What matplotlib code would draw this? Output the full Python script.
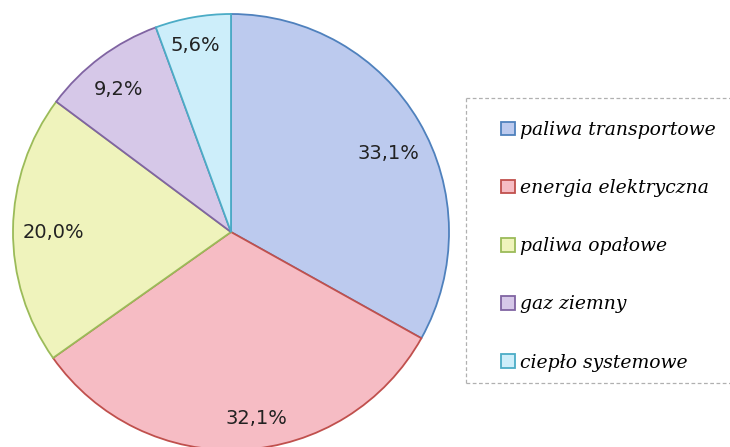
import matplotlib.pyplot as plt
from matplotlib.patches import Patch
from matplotlib.lines import Line2D

labels = ['paliwa transportowe', 'energia elektryczna', 'paliwa opałowe',
          'gaz ziemny', 'ciepło systemowe']
values = [33.1, 32.1, 20.0, 9.2, 5.6]
fills = ['#bccaee', '#f6bcc4', '#eff3bc', '#d6c8e8', '#cdeefa']
edges = ['#4f81bd', '#c0504d', '#9bbb59', '#8064a2', '#4bacc6']
# small nudges of the percent labels (px, right / down) to mimic Excel's "best fit"
nudges = [(0, 14), (16, 4), (6, 3), (-3, 4), (-4, -6)]

W, H = 730, 447
fig = plt.figure(figsize=(W / 100, H / 100), dpi=100)
ax = fig.add_axes([0, 0, 1, 1])

# pie centre at (231, 232) px, radius 218 px
cx, cy, r = 231, 232, 218


def fmt(p):
    return f'{p:.1f}%'.replace('.', ',')


wedges, texts, autotexts = ax.pie(
    values, colors=fills, startangle=90, counterclock=False,
    autopct=fmt, pctdistance=0.84, radius=1.0,
    wedgeprops=dict(linewidth=1.3),
    textprops=dict(fontsize=14, family='DejaVu Sans', color='#222222'))
for w, e in zip(wedges, edges):
    w.set_edgecolor(e)
for t, (dx, dy) in zip(autotexts, nudges):
    x, y = t.get_position()
    t.set_position((x + dx / r, y - dy / r))

ax.set_aspect('auto')
ax.set_xlim(-cx / r, (W - cx) / r)
ax.set_ylim((cy - H) / r, cy / r)
ax.axis('off')

# legend frame: dashed grey, running off the right edge
x0, x1, y0, y1 = 466 / W, 1.0, 1 - 383 / H, 1 - 98 / H
for xs, ys in [([x0, x1], [y1, y1]), ([x0, x0], [y0, y1]), ([x0, x1], [y0, y0])]:
    fig.add_artist(Line2D(xs, ys, color='#b0b0b0', lw=0.9, ls=(0, (3, 2))))

handles = [Patch(facecolor=f, edgecolor=e, linewidth=1.3) for f, e in zip(fills, edges)]
leg = fig.legend(handles, labels, loc='upper left', bbox_to_anchor=(501 / W, 1 - 121 / H),
                 prop=dict(family='DejaVu Serif', style='italic', size=13.5),
                 handlelength=0.75, handleheight=0.75, handletextpad=0.25,
                 labelspacing=2.14, borderpad=0, borderaxespad=0,
                 frameon=False)

fig.savefig('out.png', dpi=100)
